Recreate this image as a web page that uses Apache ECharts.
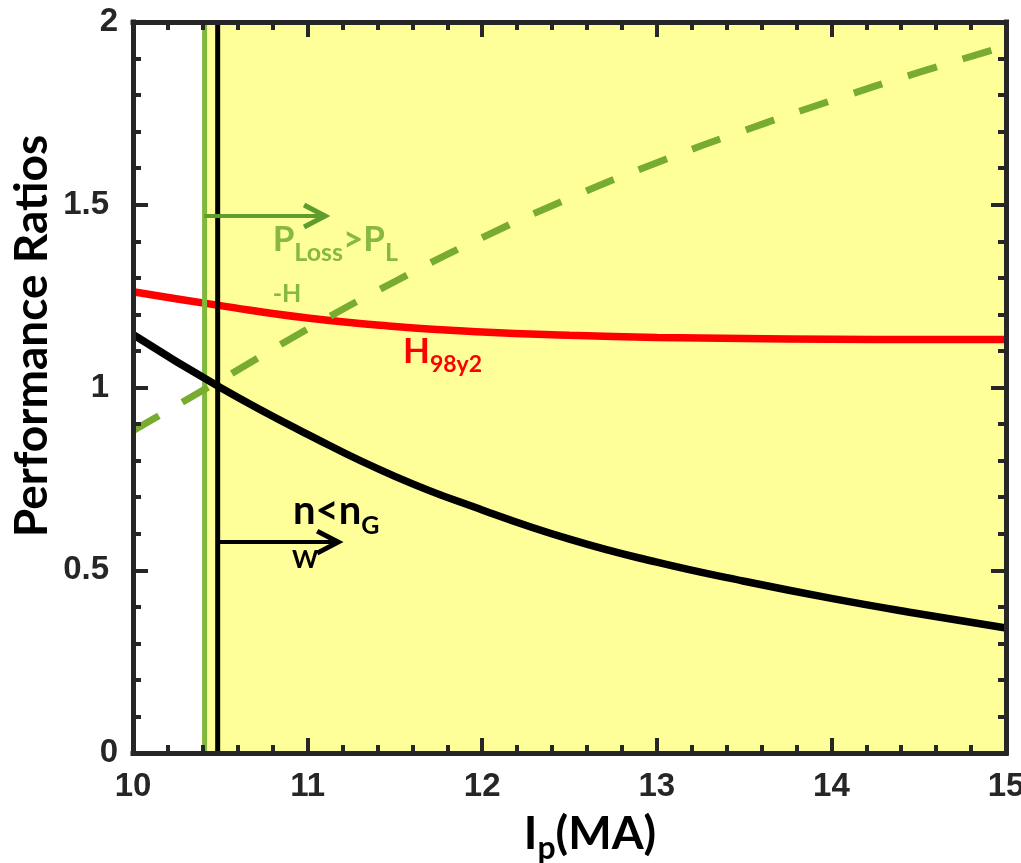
<!DOCTYPE html>
<html>
<head>
<meta charset="utf-8">
<script src="https://cdn.jsdelivr.net/npm/echarts@6/dist/echarts.min.js"></script>
<style>
html, body { margin: 0; padding: 0; background: #ffffff; }
#chart { width: 1021px; height: 863px; }
</style>
</head>
<body>
<div id="chart"></div>
<script>
// Plasma current scan (MA)
const currentMA = [10, 10.5, 11, 11.5, 12, 12.5, 13, 13.5, 14, 14.5, 15];
// Confinement quality H98y2
const h98y2 = [1.262, 1.224, 1.190, 1.167, 1.152, 1.143, 1.137, 1.134, 1.132, 1.131, 1.131];
// Density relative to the Greenwald limit n/nGW
const densityRatio = [1.145, 1.000, 0.872, 0.757, 0.665, 0.585, 0.522, 0.470, 0.423, 0.381, 0.342];
// Loss power relative to the L-H threshold P_Loss/P_L-H
const powerRatio = [0.882, 1.020, 1.160, 1.290, 1.410, 1.518, 1.615, 1.703, 1.785, 1.862, 1.934];

// Operating limits in current (MA)
const lhLimit = 10.41;   // P_Loss = P_L-H
const gwLimit = 10.485;  // n = n_GW

// Arrows: [from Ip, to Ip, ratio]
const arrowLH = [lhLimit, 11.10, 1.469];
const arrowGW = [gwLimit, 11.175, 0.577];

const xRange = [10, 15];
const yRange = [0, 2];

const pairs = (xs, ys) => xs.map((x, i) => [x, ys[i]]);

const INK = '#262626';
const TICK_FONT = 'Liberation Sans';
const TEXT_FONT = 'Lato';
const GREEN_TEXT = '#86b843';
const GREEN_ARROW = '#5e9d2d';
const GREEN_LINE = '#80b83c';
const GREEN_DASH = '#77ac30';

function axisBase(extra) {
  return Object.assign({
    type: 'value',
    z: 10,
    axisLine: { show: true, onZero: false, lineStyle: { color: INK, width: 5, cap: 'square' } },
    axisTick: { show: true, inside: true, length: 15, lineStyle: { color: INK, width: 4 } },
    minorTick: { show: true, splitNumber: 5, length: 8, lineStyle: { color: INK, width: 4 } },
    splitLine: { show: false },
    minorSplitLine: { show: false }
  }, extra);
}

const tickLabel = (margin) => ({
  show: true, margin: margin, color: INK,
  fontFamily: TICK_FONT, fontWeight: 'bold', fontSize: 33,
  alignMinLabel: 'center', alignMaxLabel: 'center'
});

const arrowColors = [GREEN_ARROW, '#000000'];

function renderArrow(params, api) {
  const y = api.value(2);
  const a = api.coord([api.value(0), y]);
  const b = api.coord([api.value(1), y]);
  const color = arrowColors[params.dataIndex];
  return {
    type: 'group',
    children: [
      { type: 'line', shape: { x1: a[0], y1: a[1], x2: b[0] - 2, y2: b[1] },
        style: { stroke: color, lineWidth: 4 } },
      { type: 'polyline',
        shape: { points: [[b[0] - 21, b[1] - 11], [b[0], b[1]], [b[0] - 21, b[1] + 11]] },
        style: { stroke: color, lineWidth: 5, fill: null, lineJoin: 'miter' } }
    ]
  };
}

const chart = echarts.init(document.getElementById('chart'), null, { renderer: 'canvas' });

chart.setOption({
  animation: false,
  backgroundColor: '#ffffff',
  grid: { left: 133, right: 15, top: 22, bottom: 110, containLabel: false, outerBoundsMode: 'none' },
  xAxis: [
    axisBase({ min: xRange[0], max: xRange[1], interval: 1, position: 'bottom', axisLabel: tickLabel(17) }),
    axisBase({ min: xRange[0], max: xRange[1], interval: 1, position: 'top', axisLabel: { show: false } })
  ],
  yAxis: [
    axisBase({ min: yRange[0], max: yRange[1], interval: 0.5, position: 'left', axisLabel: tickLabel(24) }),
    axisBase({ min: yRange[0], max: yRange[1], interval: 0.5, position: 'right', axisLabel: { show: false } })
  ],
  series: [
    {
      name: 'accessible region', type: 'line', z: 1, silent: true,
      data: [], symbol: 'none',
      markArea: {
        silent: true,
        itemStyle: { color: '#ffff99' },
        data: [[{ xAxis: lhLimit }, { xAxis: xRange[1] }]]
      }
    },
    {
      name: 'H98y2', type: 'line', z: 2, smooth: true, symbol: 'none',
      data: pairs(currentMA, h98y2),
      lineStyle: { color: '#ff0000', width: 7.5 }
    },
    {
      name: 'L-H limit', type: 'line', z: 3, symbol: 'none',
      data: [[lhLimit, yRange[0]], [lhLimit, yRange[1]]],
      lineStyle: { color: GREEN_LINE, width: 5 }
    },
    {
      name: 'Greenwald limit', type: 'line', z: 3, symbol: 'none',
      data: [[gwLimit, yRange[0]], [gwLimit, yRange[1]]],
      lineStyle: { color: '#000000', width: 5 }
    },
    {
      name: 'n/nGW', type: 'line', z: 4, smooth: true, symbol: 'none',
      data: pairs(currentMA, densityRatio),
      lineStyle: { color: '#000000', width: 7.5 }
    },
    {
      name: 'PLoss/PL-H', type: 'line', z: 4, smooth: true, symbol: 'none',
      data: pairs(currentMA, powerRatio),
      lineStyle: { color: GREEN_DASH, width: 7, type: [30, 27], cap: 'butt' }
    },
    {
      name: 'arrows', type: 'custom', z: 5, silent: true,
      renderItem: renderArrow,
      encode: { x: [0, 1], y: 2 },
      data: [arrowLH, arrowGW]
    }
  ]
});

// Annotations anchored in data coordinates
const bigSub = (big, sub, pad) => ({
  b: { fontSize: big, lineHeight: big + 6 },
  s: { fontSize: sub, lineHeight: sub, padding: [pad, 0, 0, 0] }
});

const notes = [
  { at: [10.80, 1.404], text: '{b|P}{s|Loss}{b|>P}{s|L}', color: GREEN_TEXT, rich: bigSub(35, 25, 26) },
  { at: [10.80, 1.256], text: '-H', color: GREEN_TEXT, size: 25 },
  { at: [11.546, 1.097], text: '{b|H}{s|98y2}', color: '#ff0000', rich: bigSub(35, 23, 26) },
  { at: [10.916, 0.662], text: '{b|n<n}{s|G}', color: '#000000', rich: bigSub(40, 25, 30) },
  { at: [10.911, 0.528], text: 'W', color: '#000000', size: 25 }
];

const graphics = notes.map((n) => {
  const p = chart.convertToPixel({ gridIndex: 0 }, n.at);
  const style = {
    text: n.text, fill: n.color, align: 'left', verticalAlign: 'middle',
    fontFamily: TEXT_FONT, fontWeight: 'bold'
  };
  if (n.rich) {
    style.rich = {};
    Object.keys(n.rich).forEach((k) => {
      style.rich[k] = Object.assign({ fill: n.color, fontFamily: TEXT_FONT, fontWeight: 'bold' }, n.rich[k]);
    });
  } else {
    style.fontSize = n.size;
  }
  return { type: 'text', x: p[0], y: p[1], z: 20, silent: true, style: style };
});

// Axis titles
graphics.push({
  type: 'text', x: 32, y: 336, rotation: Math.PI / 2, z: 20, silent: true,
  style: {
    text: 'Performance Ratios', fill: '#000000', align: 'center', verticalAlign: 'middle',
    fontFamily: TEXT_FONT, fontWeight: 'bold', fontSize: 46
  }
});
graphics.push({
  type: 'text', x: 590, y: 834, z: 20, silent: true,
  style: {
    text: '{b|I}{s|p}{b|(MA)}', fill: '#000000', align: 'center', verticalAlign: 'middle',
    rich: {
      b: { fontSize: 46, lineHeight: 50, fill: '#000000', fontFamily: TEXT_FONT, fontWeight: 'bold' },
      s: { fontSize: 32, lineHeight: 32, padding: [30, 0, 0, 0], fill: '#000000', fontFamily: TEXT_FONT, fontWeight: 'bold' }
    }
  }
});

chart.setOption({ graphic: graphics });
</script>
</body>
</html>
